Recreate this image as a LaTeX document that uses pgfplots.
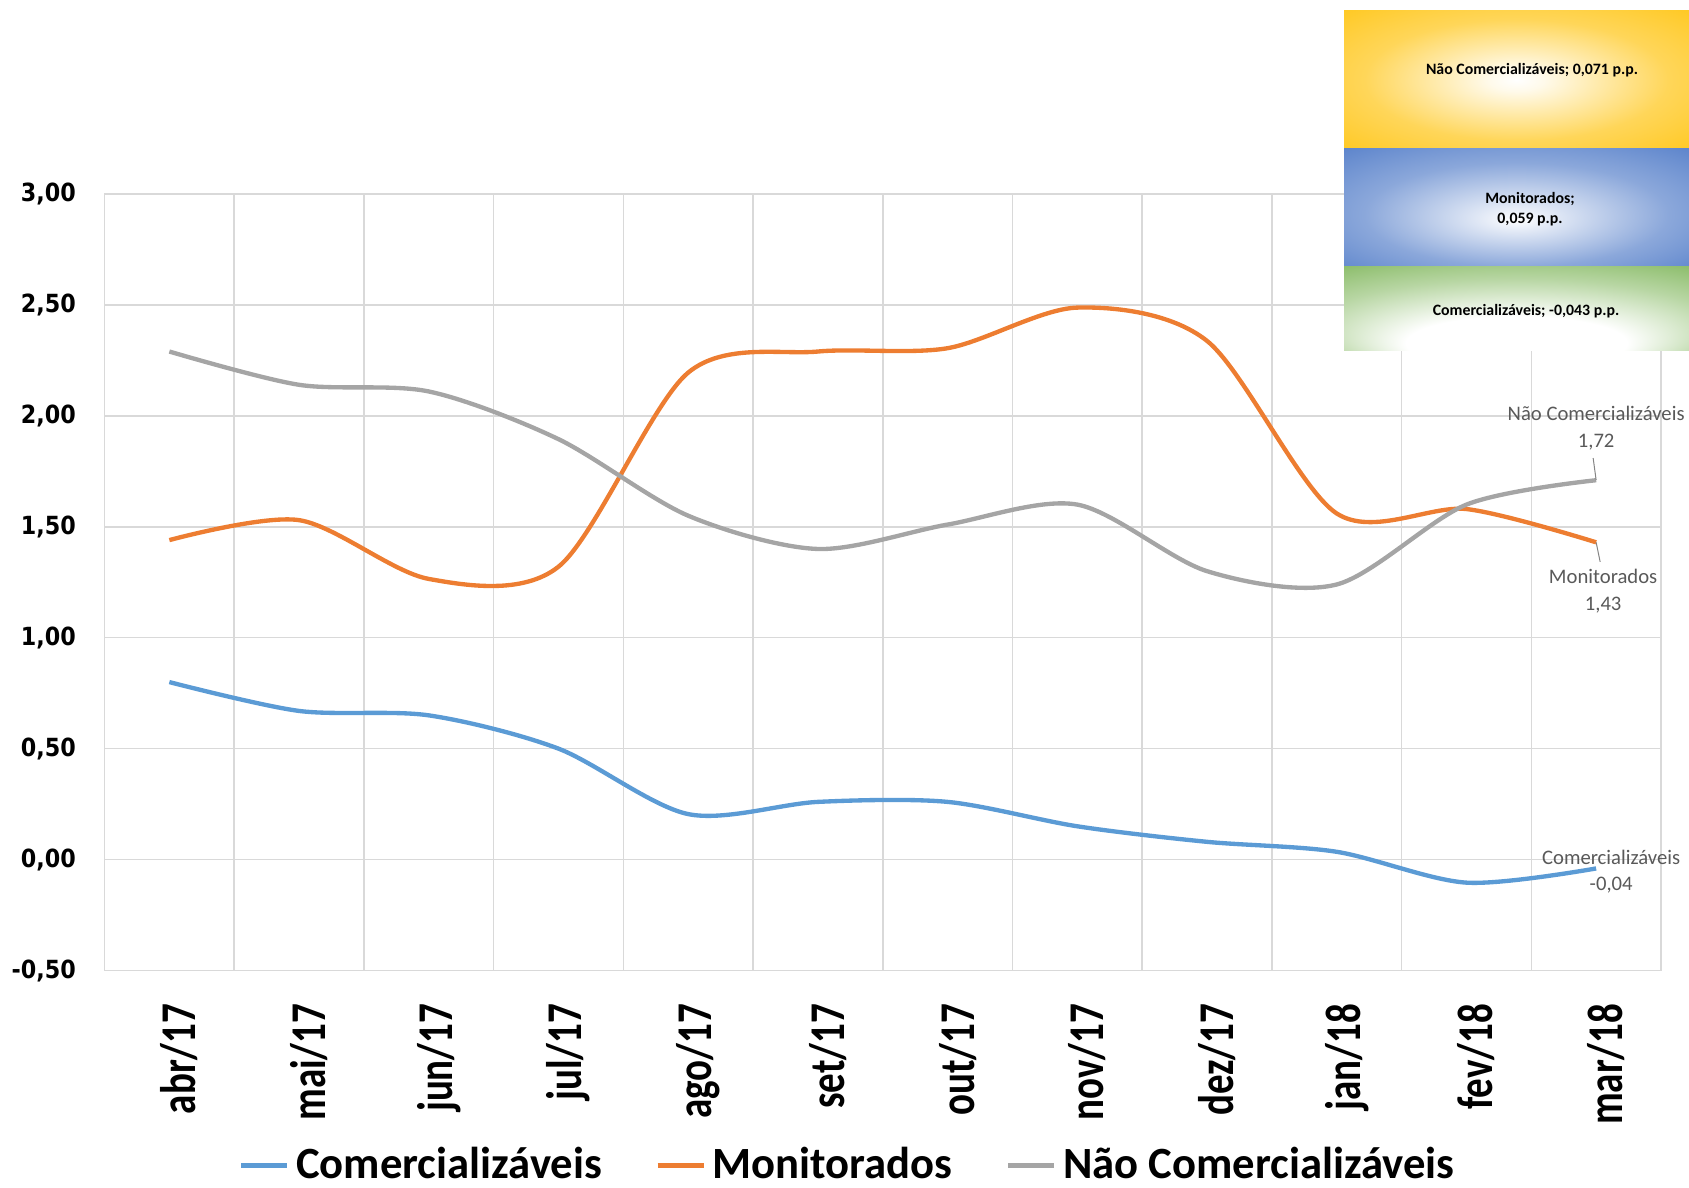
\documentclass[border=0pt]{standalone}
\usepackage{pgfplots}
\pgfplotsset{compat=1.18}
\usepackage{pgfplotstable}
\usepackage{fontspec}
\setmainfont{Carlito}
\newfontfamily\tickfont{DejaVu Sans}[FakeStretch=0.89]
\newfontfamily\xtickfont{Carlito}[FakeStretch=0.78]
\definecolor{cblue}{HTML}{5B9BD5}
\definecolor{corange}{HTML}{ED7D31}
\definecolor{cgray}{HTML}{A5A5A5}
\definecolor{cgrid}{HTML}{D9D9D9}
\definecolor{cyel}{HTML}{FFC000}
\definecolor{cbox}{HTML}{4472C4}
\definecolor{cgreen}{HTML}{70AD47}
\definecolor{clabel}{HTML}{595959}
\pgfdeclareradialshading{yshade}{\pgfpoint{0bp}{0bp}}{color(0bp)=(white); color(4bp)=(cyel!8!white); color(22bp)=(cyel!65!white); color(40bp)=(cyel!92!white); color(50bp)=(cyel)}
\pgfdeclareradialshading{bshade}{\pgfpoint{0bp}{-5bp}}{color(0bp)=(white); color(4bp)=(cbox!12!white); color(22bp)=(cbox!62!white); color(40bp)=(cbox!92!white); color(50bp)=(cbox)}
\pgfdeclareradialshading{gshade}{\pgfpoint{0bp}{-30bp}}{color(0bp)=(white); color(16bp)=(white); color(30bp)=(cgreen!50!white); color(42bp)=(cgreen!85!white); color(50bp)=(cgreen)}

\pgfplotstableread{
x com mon nao
0 0.80 1.44 2.29
1 0.67 1.53 2.14
2 0.65 1.265 2.11
3 0.50 1.32 1.895
4 0.205 2.195 1.55
5 0.26 2.29 1.40
6 0.26 2.305 1.51
7 0.15 2.488 1.60
8 0.08 2.338 1.30
9 0.035 1.56 1.24
10 -0.104 1.58 1.60
11 -0.04 1.43 1.71
}\datatable

\begin{document}
\begin{tikzpicture}[x=0.3pt,y=0.3pt]
\path[use as bounding box] (0,0) rectangle (1689,1188);
\begin{axis}[
  at={(31.35pt,65.25pt)}, anchor=south west,
  scale only axis, width=466.95pt, height=232.95pt,
  clip mode=individual,
  xmin=-0.5, xmax=11.5, ymin=-0.5, ymax=3,
  xtick={0,...,11},
  xticklabels={abr/17,mai/17,jun/17,jul/17,ago/17,set/17,out/17,nov/17,dez/17,jan/18,fev/18,mar/18},
  minor xtick={0.5,1.5,...,10.5},
  xminorgrids, ymajorgrids,
  ytick={-0.5,0,0.5,1,1.5,2,2.5,3},
  yticklabels={{-0,50},{0,00},{0,50},{1,00},{1,50},{2,00},{2,50},{3,00}},
  major tick length=0pt, minor tick length=0pt,
  grid style={cgrid, line width=0.45pt},
  minor grid style={cgrid, line width=0.45pt},
  axis line style={cgrid, line width=0.45pt},
  yticklabel style={font=\tickfont\bfseries\fontsize{7.5pt}{9pt}\selectfont, anchor=east, inner sep=0pt, xshift=-8.4pt},
  xticklabel style={font=\xtickfont\bfseries\fontsize{15pt}{17pt}\selectfont, rotate=90, anchor=east, inner sep=0pt, xshift=-9.8pt, yshift=-3pt},
  legend columns=3,
  legend style={draw=none, fill=none, at={(0.479,-0.251)}, anchor=center,
    font=\bfseries\fontsize{13.4pt}{15pt}\selectfont,
    /tikz/every even column/.append style={column sep=14pt}},
  legend image code/.code={\draw[line width=1.4pt] (0pt,0pt) -- (13.8pt,0pt);},
]
\addplot[cblue, line width=1.3pt, smooth] table[x=x, y=com] {\datatable};
\addlegendentry{Comercializáveis}
\addplot[corange, line width=1.3pt, smooth] table[x=x, y=mon] {\datatable};
\addlegendentry{Monitorados}
\addplot[cgray, line width=1.3pt, smooth] table[x=x, y=nao] {\datatable};
\addlegendentry{Não Comercializáveis}

\draw[cgray!80!black, line width=0.3pt] (axis cs:11,1.71) -- ([xshift=-0.9pt]axis cs:11,1.81);
\draw[cgray!80!black, line width=0.3pt] (axis cs:11,1.43) -- ([xshift=1.2pt]axis cs:11,1.342);
\node[clabel, font=\fontsize{6.2pt}{7pt}\selectfont, align=center, inner sep=0pt] at ([yshift=1pt]axis cs:11,1.93) {Não Comercializáveis\\[1pt]1,72};
\node[clabel, font=\fontsize{6.2pt}{7pt}\selectfont, align=center, inner sep=0pt] at ([xshift=2.1pt]axis cs:11,1.21) {Monitorados\\[1pt]1,43};
\node[clabel, font=\fontsize{6.2pt}{7pt}\selectfont, align=center, inner sep=0pt] at ([xshift=4.5pt]axis cs:11,-0.055) {Comercializáveis\\[1pt]-0,04};
\end{axis}
\shade[shading=yshade] (1344,1039) rectangle (1689,1177);
\shade[shading=bshade] (1344,921) rectangle (1689,1039);
\shade[shading=gshade] (1344,837) rectangle (1689,921);
\node[font=\bfseries\fontsize{4.75pt}{5.5pt}\selectfont, inner sep=0pt] at (1532,1118) {Não Comercializáveis; 0,071 p.p.};
\node[font=\bfseries\fontsize{4.75pt}{6pt}\selectfont, inner sep=0pt, align=center] at (1530,979) {Monitorados;\\0,059 p.p.};
\node[font=\bfseries\fontsize{4.75pt}{5.5pt}\selectfont, inner sep=0pt] at (1526,877) {Comercializáveis; -0,043 p.p.};
\end{tikzpicture}
\end{document}
